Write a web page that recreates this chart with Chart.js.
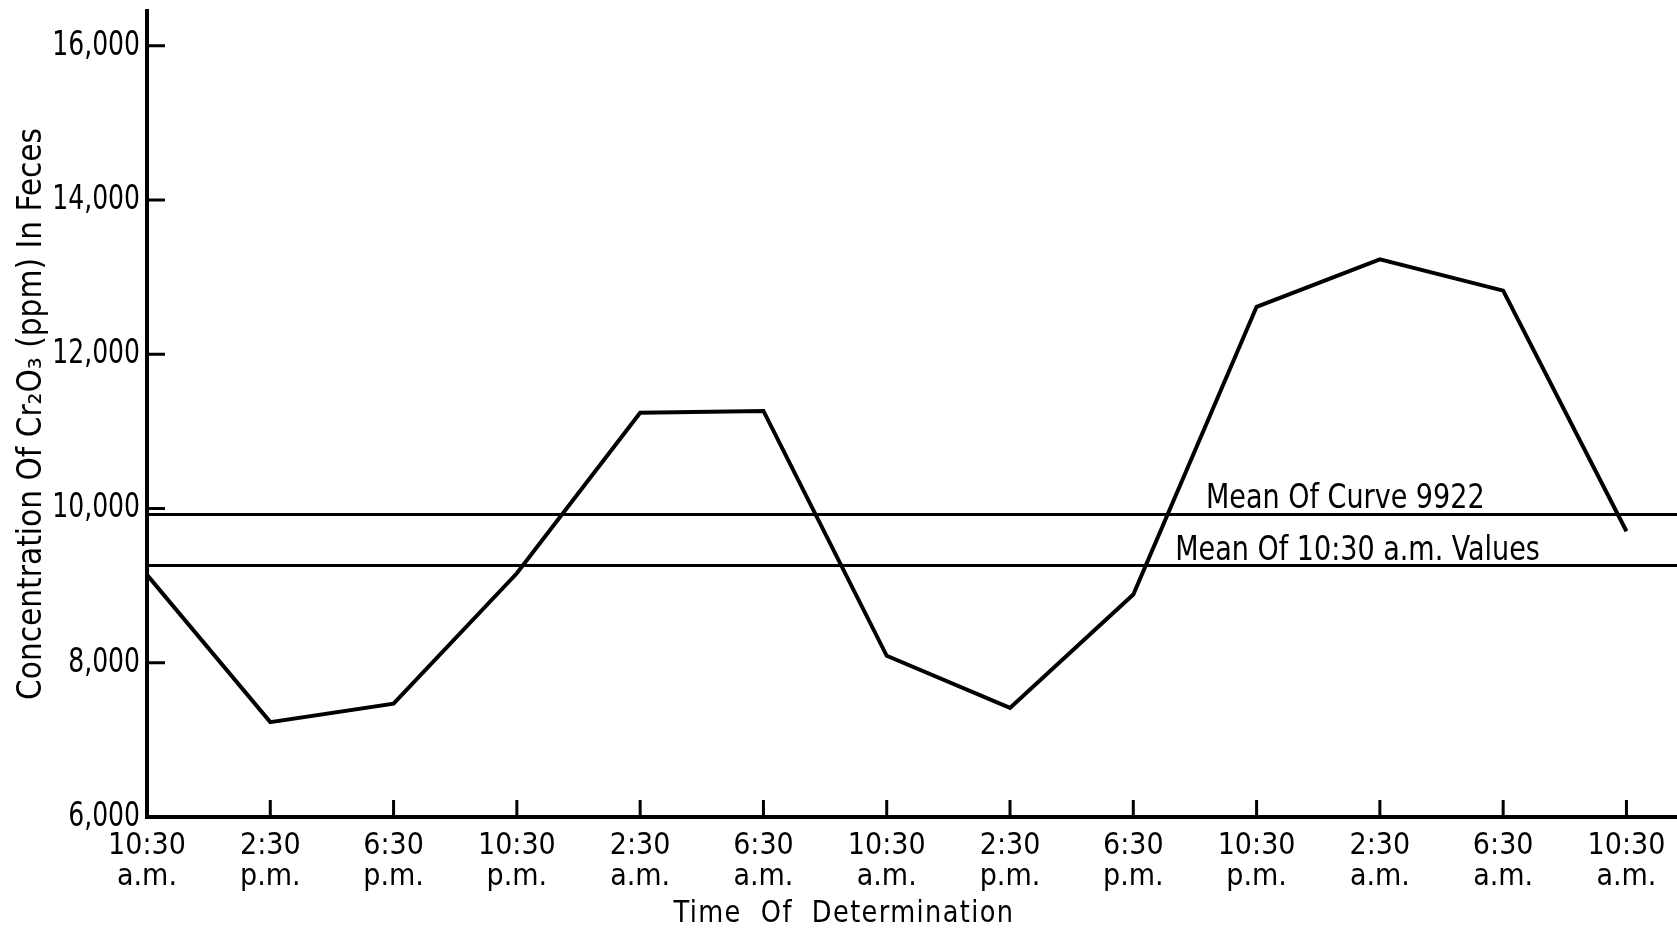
<!DOCTYPE html>
<html>
<head>
<meta charset="utf-8">
<script src="https://cdn.jsdelivr.net/npm/chart.js@4/dist/chart.umd.min.js"></script>
<style>
  html, body { margin: 0; padding: 0; background: #fff; }
</style>
</head>
<body>
<canvas id="chart" width="1677" height="931"></canvas>
<script>
// values
const timeLabels = ['10:30', '2:30', '6:30', '10:30', '2:30', '6:30', '10:30', '2:30', '6:30', '10:30', '2:30', '6:30', '10:30'];
const periodLabels = ['a.m.', 'p.m.', 'p.m.', 'p.m.', 'a.m.', 'a.m.', 'a.m.', 'p.m.', 'p.m.', 'p.m.', 'a.m.', 'a.m.', 'a.m.'];
const concentration = [9140, 7230, 7470, 9160, 11240, 11265, 8090, 7415, 8885, 12615, 13230, 12825, 9705];
const yTicks = [6000, 8000, 10000, 12000, 14000, 16000];
const meanOfCurve = 9922;
const meanOf1030 = 9260;

const FONT = '"DejaVu Sans Condensed", "DejaVu Sans", sans-serif';
const xMax = 12.41;

// the lettering on the original is tall and narrow, squeeze it a bit
function narrowText(ctx, text, x, y, squeeze) {
    ctx.save();
    ctx.translate(x, y);
    ctx.scale(squeeze, 1);
    ctx.fillText(text, 0, 0);
    ctx.restore();
}

const extras = {
    id: 'extras',
    afterDatasetsDraw(chart) {
        const { ctx, chartArea, scales: { x, y } } = chart;
        ctx.save();
        // tick marks point into the plot
        ctx.strokeStyle = '#000';
        ctx.lineWidth = 3;
        ctx.beginPath();
        yTicks.slice(1).forEach(v => {
            const py = y.getPixelForValue(v);
            ctx.moveTo(chartArea.left, py);
            ctx.lineTo(chartArea.left + 18, py);
        });
        timeLabels.forEach((t, i) => {
            if (i === 0) return;
            const px = x.getPixelForValue(i);
            ctx.moveTo(px, chartArea.bottom);
            ctx.lineTo(px, chartArea.bottom - 17);
        });
        ctx.stroke();

        ctx.fillStyle = '#000';

        // y tick labels
        ctx.font = '34px ' + FONT;
        ctx.textAlign = 'right';
        ctx.textBaseline = 'middle';
        yTicks.forEach(v => {
            narrowText(ctx, v.toLocaleString('en-US'), chartArea.left - 7, y.getPixelForValue(v), 0.82);
        });

        // labels over the mean lines
        ctx.font = '33px ' + FONT;
        ctx.textAlign = 'left';
        ctx.textBaseline = 'alphabetic';
        narrowText(ctx, 'Mean Of Curve 9922', x.getPixelForValue(8.59), y.getPixelForValue(meanOfCurve) - 6, 0.91);
        narrowText(ctx, 'Mean Of 10:30 a.m. Values', x.getPixelForValue(8.34), y.getPixelForValue(meanOf1030) - 6, 0.91);

        // x axis title, sits left of centre in the original
        ctx.font = '31px ' + FONT;
        ctx.letterSpacing = '1.5px';
        ctx.textAlign = 'center';
        ctx.textBaseline = 'middle';
        narrowText(ctx, 'Time  Of  Determination', 844, 914, 0.92);
        ctx.restore();
    }
};

new Chart(document.getElementById('chart').getContext('2d'), {
    type: 'line',
    data: {
        datasets: [
            {
                data: concentration.map((v, i) => ({ x: i, y: v })),
                borderColor: '#000',
                borderWidth: 4,
                pointRadius: 0,
                tension: 0
            },
            {
                data: [{ x: 0, y: meanOfCurve }, { x: xMax, y: meanOfCurve }],
                borderColor: '#000',
                borderWidth: 3,
                pointRadius: 0
            },
            {
                data: [{ x: 0, y: meanOf1030 }, { x: xMax, y: meanOf1030 }],
                borderColor: '#000',
                borderWidth: 3,
                pointRadius: 0
            }
        ]
    },
    options: {
        responsive: false,
        animation: false,
        layout: { padding: { top: 11, right: 0, bottom: 0, left: 0 } },
        plugins: {
            legend: { display: false },
            tooltip: { enabled: false }
        },
        scales: {
            x: {
                type: 'linear',
                min: 0,
                max: xMax,
                afterBuildTicks: scale => { scale.ticks = timeLabels.map((t, i) => ({ value: i })) },
                afterFit: scale => { scale.height = 114; scale.paddingLeft = 0; scale.paddingRight = 0 },
                grid: { display: false },
                border: { display: true, color: '#000', width: 4 },
                ticks: {
                    autoSkip: false,
                    maxRotation: 0,
                    padding: 5,
                    color: '#000',
                    font: { family: FONT, size: 30, lineHeight: 1.05 },
                    callback: value => [timeLabels[value], periodLabels[value]]
                }
            },
            y: {
                min: 6000,
                max: 16450,
                afterBuildTicks: scale => { scale.ticks = yTicks.map(v => ({ value: v })) },
                afterFit: scale => { scale.width = 147; scale.paddingTop = 0; scale.paddingBottom = 0 },
                grid: { display: false },
                border: { display: true, color: '#000', width: 4 },
                ticks: { display: false },
                title: {
                    display: true,
                    text: 'Concentration Of Cr₂O₃ (ppm) In Feces',
                    color: '#000',
                    font: { family: FONT, size: 33, lineHeight: 1.1 },
                    padding: { top: 14, bottom: 0 }
                }
            }
        }
    },
    plugins: [extras]
});
</script>
</body>
</html>
